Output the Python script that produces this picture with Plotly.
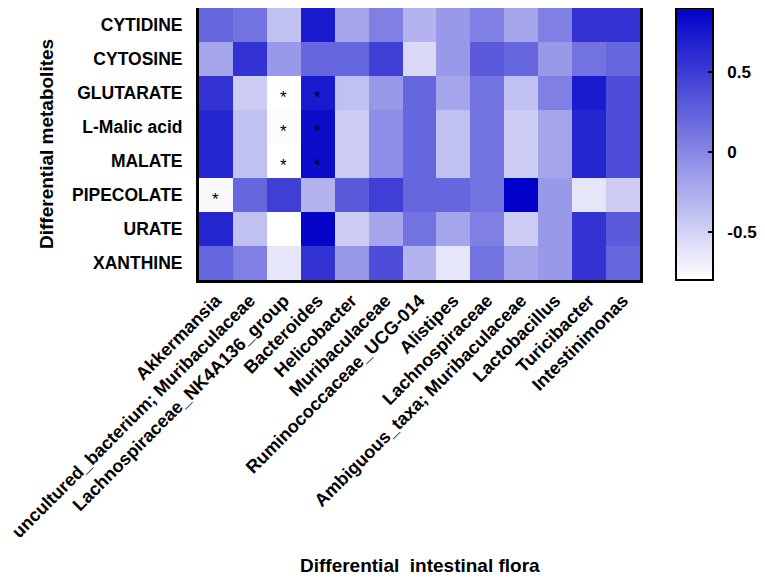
import plotly.graph_objects as go

flora = ["Akkermansia", "uncultured_bacterium; Muribaculaceae", "Lachnospiraceae_NK4A136_group",
         "Bacteroides", "Helicobacter", "Muribaculaceae", "Ruminococcaceae_UCG-014", "Alistipes",
         "Lachnospiraceae", "Ambiguous_taxa; Muribaculaceae", "Lactobacillus", "Turicibacter",
         "Intestinimonas"]
metabolites = ["CYTIDINE", "CYTOSINE", "GLUTARATE", "L-Malic acid", "MALATE", "PIPECOLATE", "URATE", "XANTHINE"]

cytidine   = [0.22, 0.14, -0.38, 0.73, -0.20, 0.05, -0.29, -0.12, 0.05, -0.20, 0.05, 0.56, 0.56]
cytosine   = [-0.20, 0.56, -0.12, 0.22, 0.22, 0.48, -0.55, -0.12, 0.30, 0.22, -0.12, 0.14, 0.22]
glutarate  = [0.56, -0.46, -0.80, 0.73, -0.38, -0.12, 0.22, -0.20, 0.14, -0.38, 0.05, 0.73, 0.39]
l_malic    = [0.65, -0.38, -0.77, 0.82, -0.46, -0.04, 0.22, -0.38, 0.14, -0.46, -0.20, 0.65, 0.39]
malate     = [0.65, -0.38, -0.80, 0.82, -0.46, -0.04, 0.22, -0.38, 0.14, -0.46, -0.20, 0.65, 0.39]
pipecolate = [-0.75, 0.22, 0.48, -0.29, 0.30, 0.48, 0.22, 0.22, 0.14, 0.90, -0.12, -0.63, -0.46]
urate      = [0.65, -0.38, -0.80, 0.87, -0.46, -0.20, 0.14, -0.20, 0.05, -0.46, -0.12, 0.56, 0.30]
xanthine   = [0.22, 0.05, -0.63, 0.56, -0.12, 0.39, -0.29, -0.63, 0.14, -0.20, -0.12, 0.56, 0.22]

z = [cytidine, cytosine, glutarate, l_malic, malate, pipecolate, urate, xanthine]

# significance marks (row, column)
sig_rows = ["GLUTARATE", "GLUTARATE", "L-Malic acid", "L-Malic acid", "MALATE", "MALATE", "PIPECOLATE"]
sig_cols = ["Lachnospiraceae_NK4A136_group", "Bacteroides", "Lachnospiraceae_NK4A136_group", "Bacteroides",
            "Lachnospiraceae_NK4A136_group", "Bacteroides", "Akkermansia"]

cbar_ticks = [-0.5, 0, 0.5]
cbar_labels = ["-0.5", "0", "0.5"]

FONT = "Liberation Sans, Arial, sans-serif"

fig = go.Figure(go.Heatmap(
    z=z, x=flora, y=metabolites,
    zmin=-0.8, zmax=0.9,
    colorscale=[[0, "rgb(255,255,255)"], [1, "rgb(0,0,200)"]],
    colorbar=dict(
        thickness=37, len=1.0, lenmode="fraction", y=0.5, yanchor="middle",
        x=1.0816, xanchor="left", xpad=0, ypad=0,
        outlinecolor="black", outlinewidth=2,
        tickvals=cbar_ticks, ticktext=["\u00a0\u00a0" + t for t in cbar_labels],
        ticks="inside", ticklen=6, tickwidth=2, tickcolor="black",
        tickfont=dict(family=FONT, size=17, color="black", weight="bold"),
    ),
    hoverinfo="x+y+z",
))

for r, c in zip(sig_rows, sig_cols):
    fig.add_annotation(x=c, y=r, text="*", showarrow=False, yshift=-4,
                       font=dict(family=FONT, size=17, color="black"))

fig.add_annotation(text="Differential  intestinal flora", xref="paper", yref="paper",
                   x=0.5, y=-1.048, yanchor="middle", showarrow=False,
                   font=dict(family=FONT, size=19, color="black", weight="bold"))
fig.add_annotation(text="Differential metabolites", xref="paper", yref="paper",
                   x=-0.347, y=0.5, textangle=-90, showarrow=False, xanchor="center",
                   font=dict(family=FONT, size=19, color="black", weight="bold"))

fig.update_xaxes(tickangle=-45, showline=True, mirror=True, linecolor="black", linewidth=3,
                 ticks="", tickfont=dict(family=FONT, size=18, color="black", weight="bold"))
fig.update_yaxes(autorange="reversed", showline=True, mirror=True, linecolor="black", linewidth=3,
                 ticks="", ticklen=0, ticklabelstandoff=10,
                 tickfont=dict(family=FONT, size=17.5, color="black", weight="bold"))

# page body has an 8px margin, so margins are offset to land the plot at the reference position
fig.update_layout(
    width=765, height=584,
    margin=dict(l=191, r=133, t=0, b=312, autoexpand=False),
    plot_bgcolor="white", paper_bgcolor="white",
    showlegend=False,
)

fig.write_html("out.html")
